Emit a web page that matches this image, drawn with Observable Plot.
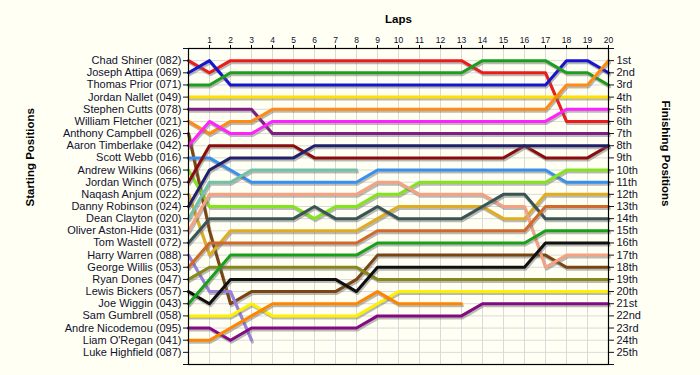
<!DOCTYPE html>
<html><head><meta charset="utf-8">
<script src="https://cdn.jsdelivr.net/npm/d3@7"></script>
<script src="https://cdn.jsdelivr.net/npm/@observablehq/plot@0.6"></script>
<style>body{margin:0;background:#fffff4;}</style>
</head><body><div id="chart"></div>
<script>
// Laps (0 = grid)
const laps = [0,1,2,3,4,5,6,7,8,9,10,11,12,13,14,15,16,17,18,19,20];
const lapTickLabels = ["1","2","3","4","5","6","7","8","9","10","11","12","13","14","15","16","17","18","19","20"];
const startNames = ["Chad Shiner (082)","Joseph Attipa (069)","Thomas Prior (071)","Jordan Nallet (049)","Stephen Cutts (078)","William Fletcher (021)","Anthony Campbell (026)","Aaron Timberlake (042)","Scott Webb (016)","Andrew Wilkins (066)","Jordan Winch (075)","Naqash Anjum (022)","Danny Robinson (024)","Dean Clayton (020)","Oliver Aston-Hide (031)","Tom Wastell (072)","Harry Warren (088)","George Willis (053)","Ryan Dones (047)","Lewis Bickers (057)","Joe Wiggin (043)","Sam Gumbrell (058)","Andre Nicodemou (095)","Liam O'Regan (041)","Luke Highfield (087)"];
const finishLabels = ["1st","2nd","3rd","4th","5th","6th","7th","8th","9th","10th","11th","12th","13th","14th","15th","16th","17th","18th","19th","20th","21st","22nd","23rd","24th","25th"];

// Positions per lap (lap 0..20), null = retired
const pRed       = [1,2,1,1,1,1,1,1,1,1,1,1,1,1,2,2,2,2,6,6,6];
const pBlue      = [2,1,3,3,3,3,3,3,3,3,3,3,3,3,3,3,3,3,1,1,2];
const pGreen     = [3,3,2,2,2,2,2,2,2,2,2,2,2,2,1,1,1,1,2,2,3];
const pYellow    = [4,4,4,4,4,4,4,4,4,4,4,4,4,4,4,4,4,4,4,4,4];
const pPurple    = [5,5,5,5,7,7,7,7,7,7,7,7,7,7,7,7,7,7,7,7,7];
const pOrange    = [6,7,6,6,5,5,5,5,5,5,5,5,5,5,5,5,5,5,3,3,1];
const pBrown     = [7,15,21,20,20,20,20,20,19,17,17,17,17,17,17,17,17,17,18,18,18];
const pMagenta   = [8,6,7,7,6,6,6,6,6,6,6,6,6,6,6,6,6,6,5,5,5];
const pLightBlue = [9,9,10,11,11,11,11,11,11,10,10,10,10,10,10,10,10,10,11,11,11];
const pLime      = [10,13,13,13,13,13,14,13,13,12,12,11,11,11,11,11,11,11,10,10,10];
const pDarkRed   = [11,8,8,8,8,8,9,9,9,9,9,9,9,9,9,9,8,9,9,9,8];
const pGoldenrod = [12,17,15,15,15,15,15,15,15,14,13,13,13,13,13,14,14,12,12,12,12];
const pNavy      = [13,10,9,9,9,9,8,8,8,8,8,8,8,8,8,8,8,8,8,8,8];
const pAqua      = [14,11,11,10,10,10,10,10,10,null,null,null,null,null,null,null,null,null,null,null,null];
const pSalmon    = [15,12,12,12,12,12,12,12,12,11,11,12,12,12,12,13,13,18,17,17,17];
const pSlate     = [16,14,14,14,14,14,13,14,14,13,14,14,14,14,13,12,12,14,14,14,14];
const pLavender  = [17,20,20,24,null,null,null,null,null,null,null,null,null,null,null,null,null,null,null,null,null];
const pChocolate = [18,16,16,16,16,16,16,16,16,15,15,15,15,15,15,15,15,13,13,13,13];
const pOlive     = [19,18,18,18,18,18,18,18,18,19,19,19,19,19,19,19,19,19,19,19,19];
const pBlack     = [20,21,19,19,19,19,19,19,20,18,18,18,18,18,18,18,18,16,16,16,16];
const pForest    = [21,19,17,17,17,17,17,17,17,16,16,16,16,16,16,16,16,15,15,15,15];
const pYellow2   = [22,22,22,21,22,22,22,22,22,21,20,20,20,20,20,20,20,20,20,20,20];
const pPurple2   = [23,23,24,23,23,23,23,23,23,22,22,22,22,22,21,21,21,21,21,21,21];
const pOrange2   = [24,24,23,22,21,21,21,21,21,20,21,21,21,21,null,null,null,null,null,null,null];

const seriesPositions = [pRed,pBlue,pGreen,pYellow,pPurple,pOrange,pBrown,pMagenta,pLightBlue,pLime,pDarkRed,pGoldenrod,pNavy,pAqua,pSalmon,pSlate,pLavender,pChocolate,pOlive,pBlack,pForest,pYellow2,pPurple2,pOrange2];
const seriesColors = ["#ec1c1c","#1616d0","#1c9e1c","#ffe000","#7e1e82","#ff8a14","#7a4512","#ff22ff","#3890ee","#84e41c","#8a0c0c","#e0ac22","#20206c","#72c2a8","#f5a282","#3a5454","#9a7ee0","#d2692a","#88881a","#101010","#18a018","#fff000","#820a82","#ff8400"];

const positions = startNames.map((_, i) => i + 1);
const yTicks = [0, ...positions, 26];

const lineMarks = [];
seriesPositions.forEach((arr, i) => {
  const rows = [];
  arr.forEach((p, j) => { if (p != null) rows.push({lap: laps[j], pos: p}); });
  lineMarks.push(Plot.line(rows, {x: "lap", y: "pos", stroke: "#666", strokeOpacity: 0.45, strokeWidth: 3, dx: 1, dy: 2}));
  lineMarks.push(Plot.line(rows, {x: "lap", y: "pos", stroke: seriesColors[i], strokeWidth: 3}));
});

const chart = Plot.plot({
  width: 700, height: 375,
  marginTop: 48, marginBottom: 11, marginLeft: 188, marginRight: 92,
  style: {background: "#fffff4", fontFamily: "'Liberation Sans', Arial, sans-serif", fontSize: "11px", color: "#101030"},
  x: {domain: [0, 20]},
  y: {domain: [0, 26], reverse: true},
  marks: [
    Plot.gridX(laps, {stroke: "#dadada", strokeOpacity: 1}),
    Plot.gridY(positions, {stroke: "#dadada", strokeOpacity: 1}),
    ...lineMarks,
    Plot.frame({stroke: "#000", strokeWidth: 1.2}),
    Plot.axisX(laps.slice(1), {anchor: "top", tickSize: 4, tickPadding: 2, fontSize: 8.5, tickFormat: (d) => lapTickLabels[d - 1], label: null, stroke: "#000"}),
    Plot.axisY(yTicks, {anchor: "left", tickSize: 5, tickPadding: 2, tickFormat: (d) => startNames[d - 1] ?? "", label: null, fontSize: 11}),
    Plot.axisY(yTicks, {anchor: "right", tickSize: 5, tickPadding: 3, tickFormat: (d) => finishLabels[d - 1] ?? "", label: null, fontSize: 11}),
    Plot.text(["Laps"], {frameAnchor: "top", dy: -34, text: (d) => d, fontWeight: "bold", fontSize: 11.5, fill: "#000"}),
    Plot.text(["Starting Positions"], {frameAnchor: "left", dx: -158, rotate: -90, text: (d) => d, fontWeight: "bold", fontSize: 11.5, fill: "#000"}),
    Plot.text(["Finishing Positions"], {frameAnchor: "right", dx: 57, rotate: 90, text: (d) => d, fontWeight: "bold", fontSize: 11.5, fill: "#000"})
  ]
});
document.getElementById("chart").appendChild(chart);
</script>
</body></html>
